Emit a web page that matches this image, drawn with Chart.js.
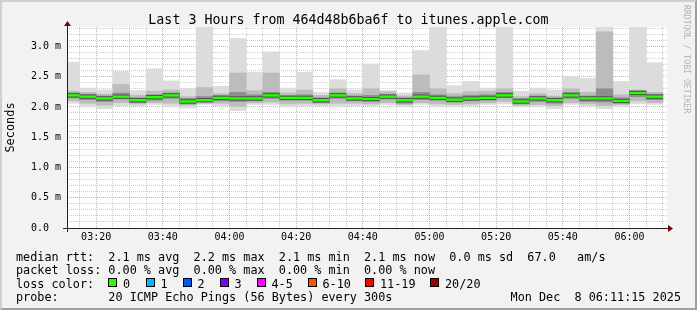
<!DOCTYPE html>
<html>
<head>
<meta charset="utf-8">
<script src="https://cdn.jsdelivr.net/npm/chart.js@4/dist/chart.umd.min.js"></script>
<style>
  body { margin: 0; }
  #box { position: relative; width: 697px; height: 310px; background: #f2f2f2; overflow: hidden;
         font-family: 'DejaVu Sans Mono', monospace; color: #000; }
  #frame { position: absolute; left: 0; top: 0; width: 693px; height: 306px; border: 2px solid;
           border-color: #cfcfcf #9e9e9e #9e9e9e #cfcfcf; }
  canvas { position: absolute; left: 0; top: 0; }
  #title { position: absolute; left: 0; top: 12px; width: 697px; text-align: center;
           font-size: 13.3px; line-height: 16px; white-space: pre; }
  #mark { position: absolute; left: 682px; top: 5px; writing-mode: vertical-rl; font-size: 8.2px;
          line-height: 10px; color: #b4b4b4; white-space: pre; }
  .row { position: absolute; white-space: pre; font-size: 11.8px; line-height: 14px; }
  .sq { position: absolute; width: 7px; height: 7px; border: 1px solid #000; }
</style>
</head>
<body>
<div id="box">
  <div id="frame"></div>
  <canvas id="chart" width="697" height="310"></canvas>
  <div id="title">Last 3 Hours from 464d48b6ba6f to itunes.apple.com</div>
  <div id="mark">RRDTOOL / TOBI OETIKER</div>
  <div class="row" style="left:16px; top:249.5px">median rtt:  2.1 ms avg  2.2 ms max  2.1 ms min  2.1 ms now  0.0 ms sd  67.0   am/s</div>
  <div class="row" style="left:16px; top:263px">packet loss: 0.00 % avg  0.00 % max  0.00 % min  0.00 % now</div>
  <div class="row" style="left:16px; top:276.5px">loss color:</div>
  <div id="lossRow"></div>
  <div class="row" style="left:16px; top:290px">probe:       20 ICMP Echo Pings (56 Bytes) every 300s</div>
  <div class="row" style="right:16px; top:290px">Mon Dec  8 06:11:15 2025</div>
</div>
<script>
// 5 minute steps, start time of each step
const barStarts = ['03:10','03:15','03:20','03:25','03:30','03:35','03:40','03:45','03:50','03:55',
  '04:00','04:05','04:10','04:15','04:20','04:25','04:30','04:35','04:40','04:45',
  '04:50','04:55','05:00','05:05','05:10','05:15','05:20','05:25','05:30','05:35',
  '05:40','05:45','05:50','05:55','06:00','06:05'];

// round trip times in ms
const rttMedian = [2.19,2.17,2.14,2.17,2.11,2.16,2.19,2.09,2.11,2.15, 2.14,2.14,2.19,2.15,2.15,2.11,2.19,2.14,2.13,2.17,
  2.11,2.17,2.15,2.12,2.14,2.15,2.19,2.09,2.14,2.11, 2.19,2.14,2.14,2.10,2.23,2.17];
const rttMax = [2.74,2.31,2.28,2.59,2.27,2.63,2.43,2.30,3.50,2.34, 3.13,2.57,2.91,2.31,2.57,2.24,2.45,2.28,2.71,2.27,
  2.23,2.93,3.50,2.35,2.42,2.31,3.50,2.26,2.31,2.28, 2.50,2.47,3.50,2.42,3.50,2.73];
const rttHi1 = [2.26,2.24,2.21,2.37,2.19,2.26,2.28,2.17,2.32,2.22, 2.56,2.27,2.56,2.23,2.28,2.19,2.30,2.22,2.30,2.25,
  2.18,2.53,2.30,2.22,2.25,2.26,2.30,2.17,2.22,2.18, 2.30,2.24,3.24,2.20,2.28,2.24];
const rttHi2 = [2.23,2.21,2.18,2.23,2.15,2.20,2.23,2.14,2.17,2.19, 2.24,2.20,2.24,2.19,2.20,2.15,2.23,2.18,2.19,2.21,
  2.15,2.24,2.20,2.17,2.19,2.20,2.24,2.14,2.18,2.15, 2.24,2.18,2.30,2.15,2.27,2.21];
const rttLo2 = [2.15,2.12,2.09,2.13,2.07,2.11,2.14,2.05,2.08,2.10, 2.09,2.10,2.14,2.11,2.11,2.07,2.14,2.10,2.09,2.13,
  2.06,2.12,2.11,2.08,2.10,2.11,2.15,2.05,2.09,2.06, 2.14,2.09,2.08,2.06,2.17,2.12];
const rttLo1 = [2.10,2.06,2.03,2.07,2.05,2.07,2.06,2.03,2.06,2.06, 2.01,2.07,2.08,2.05,2.06,2.05,2.06,2.06,2.05,2.07,
  2.04,2.07,2.05,2.04,2.05,2.07,2.09,2.03,2.04,2.02, 2.07,2.05,2.02,2.04,2.10,2.07];
const rttMin = [2.06,2.00,1.97,2.02,2.02,2.04,2.00,1.98,2.04,2.02, 1.94,2.04,2.04,2.00,2.02,2.02,2.00,2.02,2.02,2.04,
  2.00,2.04,2.00,2.00,2.02,2.04,2.05,2.00,2.00,1.97, 2.04,2.02,1.97,2.00,2.05,2.04];

const xTickLabels = ['03:20','03:40','04:00','04:20','04:40','05:00','05:20','05:40','06:00'];
const yTickLabels = ['0.0','0.5 m','1.0 m','1.5 m','2.0 m','2.5 m','3.0 m'];
const rangeStart = '03:11:15';
const rangeEnd = '06:11:15';

const lossLabels = ['0','1','2','3','4-5','6-10','11-19','20/20'];
const lossColors = ['#26ff00','#00b8ff','#0059ff','#7e00ff','#ff00ff','#ff5500','#ff0000','#a10000'];
const lossX = [108, 145.5, 182.5, 219.5, 256.5, 307.5, 365, 430];

const FONT = "'DejaVu Sans Mono', monospace";

function toMin(s) {
  const p = s.split(':').map(Number);
  return p[0] * 60 + p[1] + (p[2] || 0) / 60;
}

// loss colour legend
const lossRow = document.getElementById('lossRow');
lossLabels.forEach((lab, i) => {
  const sq = document.createElement('div');
  sq.className = 'sq';
  sq.style.left = lossX[i] + 'px';
  sq.style.top = '278px';
  sq.style.background = lossColors[i];
  lossRow.appendChild(sq);
  const t = document.createElement('div');
  t.className = 'row';
  t.style.left = (lossX[i] + 15) + 'px';
  t.style.top = '276.5px';
  t.textContent = lab;
  lossRow.appendChild(t);
});

const barCenters = barStarts.map(t => toMin(t) + 2.5);

function band(lo, hi, color, order) {
  return {
    type: 'bar',
    data: barCenters.map((x, i) => ({ x, y: [lo[i], hi[i]] })),
    backgroundColor: color,
    borderWidth: 0,
    grouped: false,
    barPercentage: 1,
    categoryPercentage: 1,
    clip: 0,
    order
  };
}

// median drawn as a short flat mark across each 5 minute step
function medianMarks(color, width, order) {
  return {
    type: 'line',
    data: barCenters.map((x, i) => ({ x, y: rttMedian[i] })),
    showLine: false,
    pointStyle: 'line',
    pointRadius: 8.4,
    pointBorderWidth: width,
    pointBorderColor: color,
    pointBackgroundColor: color,
    clip: 0,
    order
  };
}

const majorGrid = 'rgba(222, 81, 81, 0.55)';
const minorGrid = 'rgba(143, 143, 143, 0.45)';

const canvasBack = {
  id: 'canvasBack',
  beforeDraw(chart) {
    const { ctx, chartArea: a } = chart;
    ctx.save();
    ctx.fillStyle = '#ffffff';
    ctx.fillRect(a.left, a.top, a.right - a.left, a.bottom - a.top);
    ctx.restore();
  }
};

const axisArrows = {
  id: 'axisArrows',
  afterDraw(chart) {
    const { ctx, chartArea: a } = chart;
    const y0 = Math.round(a.bottom) + 0.5;
    const x0 = Math.round(a.left) + 0.5;
    ctx.save();
    ctx.strokeStyle = '#222';
    ctx.lineWidth = 1;
    ctx.beginPath();
    ctx.moveTo(a.left - 4, y0);
    ctx.lineTo(a.right + 1, y0);
    ctx.moveTo(x0, a.bottom + 4);
    ctx.lineTo(x0, a.top - 2);
    ctx.stroke();
    ctx.fillStyle = '#7f0000';
    ctx.beginPath();
    ctx.moveTo(a.right + 1, y0 - 3.5);
    ctx.lineTo(a.right + 6, y0);
    ctx.lineTo(a.right + 1, y0 + 3.5);
    ctx.closePath();
    ctx.fill();
    ctx.beginPath();
    ctx.moveTo(x0 - 3.5, a.top - 1);
    ctx.lineTo(x0, a.top - 6);
    ctx.lineTo(x0 + 3.5, a.top - 1);
    ctx.closePath();
    ctx.fill();
    ctx.restore();
  }
};

new Chart(document.getElementById('chart'), {
  type: 'bar',
  data: {
    datasets: [
      medianMarks('#26ff00', 2.5, 0),
      medianMarks('#404040', 4, 1),
      band(rttLo2, rttHi2, '#8e8e8e', 2),
      band(rttLo1, rttHi1, '#bcbcbc', 3),
      band(rttMin, rttMax, '#dcdcdc', 4)
    ]
  },
  options: {
    responsive: false,
    devicePixelRatio: 1,
    animation: false,
    events: [],
    layout: { padding: { left: 0, top: 27, right: 30, bottom: 0 } },
    plugins: { legend: { display: false }, tooltip: { enabled: false } },
    scales: {
      x: {
        type: 'linear',
        min: toMin(rangeStart),
        max: toMin(rangeEnd),
        offset: false,
        afterBuildTicks: axis => {
          const ticks = [];
          for (let v = 195; v <= 370; v += 5) ticks.push({ value: v });
          axis.ticks = ticks;
        },
        afterFit: scale => { scale.height = 82; },
        grid: {
          offset: false,
          drawTicks: false,
          lineWidth: 1,
          color: c => (c.tick && c.tick.value % 20 === 0) ? majorGrid : minorGrid
        },
        border: { display: false, dash: [1, 1] },
        ticks: {
          autoSkip: false,
          maxRotation: 0,
          padding: 3,
          color: '#000',
          font: { family: FONT, size: 10 },
          callback: v => xTickLabels.find(l => toMin(l) === v) || ''
        }
      },
      y: {
        min: 0,
        max: 3.32,
        afterBuildTicks: axis => {
          const ticks = [];
          for (let i = 0; i <= 33; i++) ticks.push({ value: i / 10 });
          axis.ticks = ticks.filter(t => t.value <= 3.32);
        },
        afterFit: scale => { scale.width = 67; },
        grid: {
          drawTicks: false,
          lineWidth: 1,
          color: c => (c.tick && Math.round(c.tick.value * 10) % 5 === 0) ? majorGrid : minorGrid
        },
        border: { display: false, dash: [1, 1] },
        title: {
          display: true,
          text: 'Seconds',
          color: '#000',
          font: { family: FONT, size: 11.9 },
          padding: { top: 4, bottom: 0 }
        },
        ticks: {
          autoSkip: false,
          padding: 6,
          color: '#000',
          font: { family: FONT, size: 10 },
          callback: v => {
            const k = Math.round(v * 10);
            return k % 5 === 0 ? yTickLabels[k / 5].padEnd(5, ' ') : '';
          }
        }
      }
    }
  },
  plugins: [canvasBack, axisArrows]
});
</script>
</body>
</html>
